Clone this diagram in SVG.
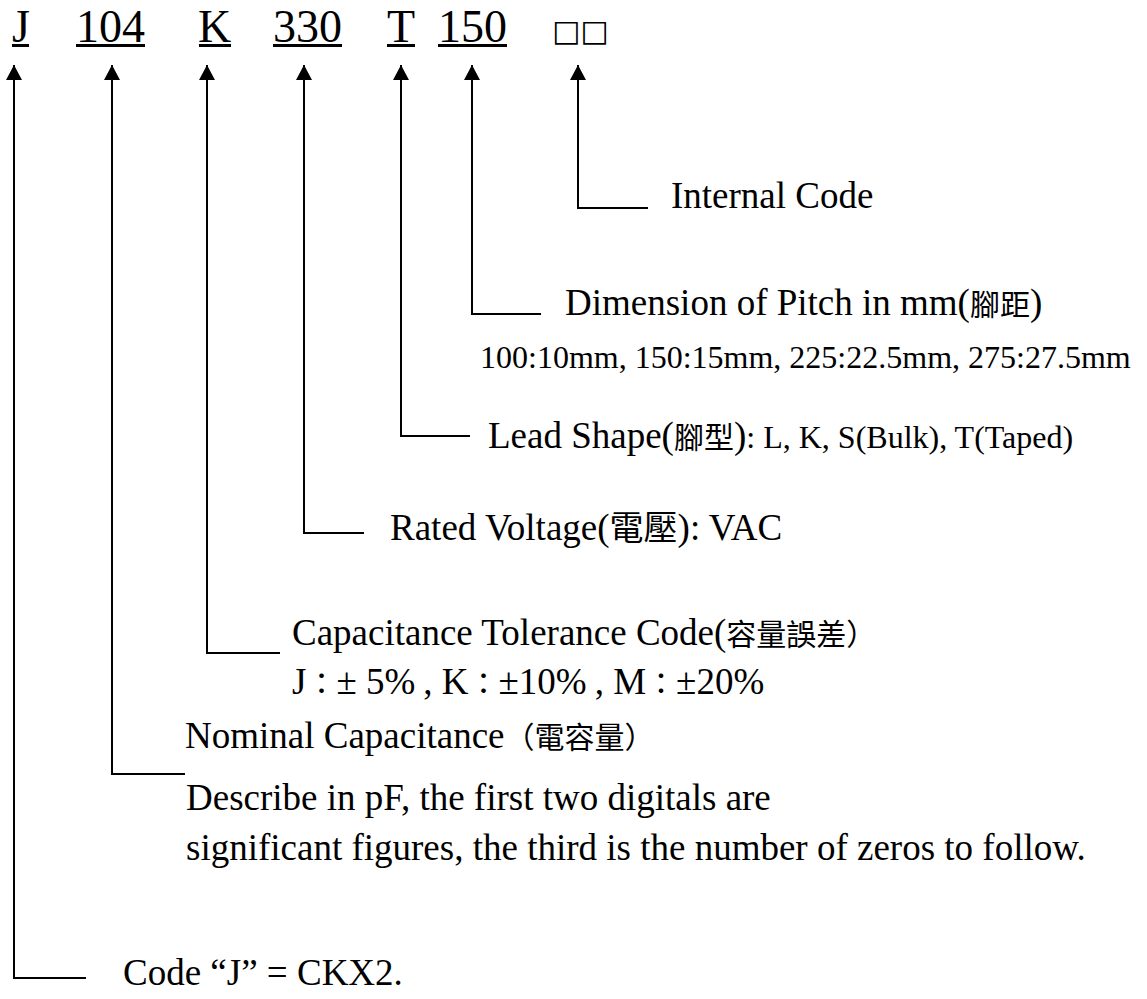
<svg xmlns="http://www.w3.org/2000/svg" width="1147" height="999" viewBox="0 0 1147 999">
<style>
text{font-family:"Liberation Serif","Times New Roman","Noto Sans CJK TC",serif;fill:#000}
.code{font-size:46px}
.lbl{font-size:37px}
.sm{font-size:32px}
.cjk{font-family:"Noto Sans CJK TC","Liberation Serif",sans-serif;font-size:30px}
.cjk2{font-family:"Noto Sans CJK TC","Liberation Serif",sans-serif;font-size:34px}
.conn{fill:none;stroke:#000;stroke-width:2}
.ul{fill:#000}
</style>
<defs>
<marker id="ah" viewBox="0 0 15 16" refX="15" refY="8" markerWidth="15" markerHeight="16" markerUnits="userSpaceOnUse" orient="auto">
<path d="M0,0 L15,8 L0,16 z" fill="#000"/>
</marker>
</defs>
<rect width="1147" height="999" fill="#fff"/>
<g id="code-row">
<text class="code" x="12" y="42">J</text>
<text class="code" x="76" y="42">104</text>
<text class="code" x="198" y="42">K</text>
<text class="code" x="273" y="42">330</text>
<text class="code" x="387" y="42">T</text>
<text class="code" x="438" y="42">150</text>
<text x="552" y="41" style="font-family:'DejaVu Sans',sans-serif;font-size:30px">□□</text>
<rect class="ul" x="12" y="44" width="17" height="3"/>
<rect class="ul" x="76" y="44" width="69" height="3"/>
<rect class="ul" x="199" y="44" width="32" height="3"/>
<rect class="ul" x="273" y="44" width="69" height="3"/>
<rect class="ul" x="387" y="44" width="28" height="3"/>
<rect class="ul" x="438" y="44" width="69" height="3"/>
</g>
<g id="connectors">
<path class="conn" marker-end="url(#ah)" d="M86,978 H14 V65"/>
<path class="conn" marker-end="url(#ah)" d="M185,774 H112 V65"/>
<path class="conn" marker-end="url(#ah)" d="M280,653 H207 V65"/>
<path class="conn" marker-end="url(#ah)" d="M364,533 H304 V65"/>
<path class="conn" marker-end="url(#ah)" d="M470,436 H401 V65"/>
<path class="conn" marker-end="url(#ah)" d="M541,314 H472 V65"/>
<path class="conn" marker-end="url(#ah)" d="M648,208 H578 V65"/>
</g>
<g id="internal-code">
<text class="lbl" x="671" y="208">Internal Code</text>
</g>
<g id="pitch">
<text class="lbl" x="565" y="315">Dimension of Pitch in mm(<tspan class="cjk">腳距</tspan>)</text>
<text class="sm" x="480" y="368">100:10mm, 150:15mm, 225:22.5mm, 275:27.5mm</text>
</g>
<g id="lead-shape">
<text class="lbl" x="488" y="448">Lead Shape(<tspan class="cjk">腳型</tspan>)<tspan class="sm">: L, K, S(Bulk), T(Taped)</tspan></text>
</g>
<g id="rated-voltage">
<text class="lbl" x="390" y="540">Rated Voltage(<tspan class="cjk2">電壓</tspan>): VAC</text>
</g>
<g id="tolerance">
<text class="lbl" x="292" y="645">Capacitance Tolerance Code(<tspan class="cjk">容量誤差）</tspan></text>
<text class="lbl" x="292" y="694">J<tspan class="cjk">：</tspan>± 5%<tspan class="sm"> </tspan>, K<tspan class="cjk">：</tspan>±10%<tspan class="sm"> </tspan>, M<tspan class="cjk">：</tspan>±20%</text>
</g>
<g id="nominal">
<text class="lbl" x="185" y="748">Nominal Capacitance<tspan class="cjk">（電容量）</tspan></text>
<text class="lbl" x="186" y="810">Describe in pF, the first two digitals are</text>
<text class="lbl" x="186" y="860">significant figures, the third is the number of zeros to  follow.</text>
</g>
<g id="code-j">
<text class="lbl" x="123" y="985">Code “J” = CKX2.</text>
</g>
</svg>
